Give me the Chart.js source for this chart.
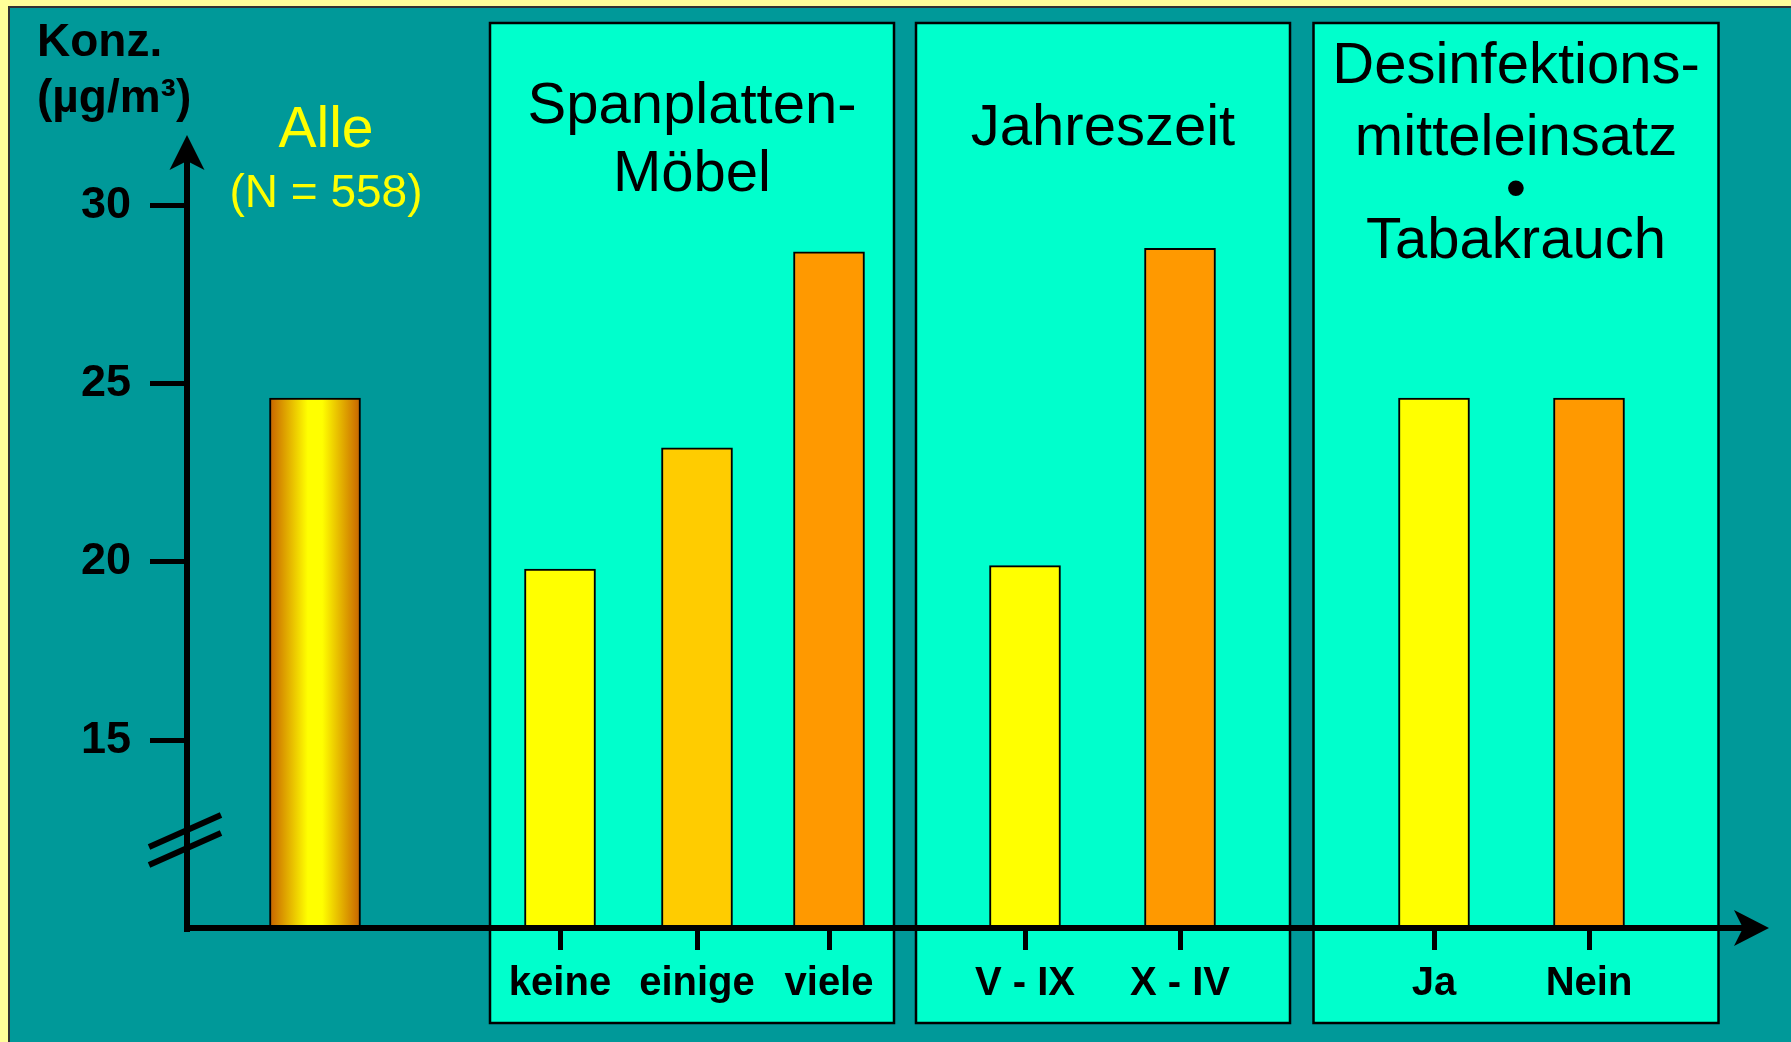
<!DOCTYPE html>
<html>
<head>
<meta charset="utf-8">
<title>Konzentration</title>
<script src="https://cdn.jsdelivr.net/npm/chart.js@4.4.0/dist/chart.umd.min.js"></script>
<style>
html, body { margin: 0; padding: 0; background: #009999; overflow: hidden; }
canvas { display: block; }
</style>
</head>
<body>
<canvas id="chart" width="1791" height="1042"></canvas>
<script>
// data
const allLabel = 'Alle';
const allCount = 558;
const allValue = 24.6;
const categories = ['keine', 'einige', 'viele', 'V - IX', 'X - IV', 'Ja', 'Nein'];
const values = [19.8, 23.2, 28.7, 19.9, 28.8, 24.6, 24.6];
const yTicks = [15, 20, 25, 30];
const groupTitles = [['Spanplatten-', 'Möbel'], ['Jahreszeit'], ['Desinfektions-', 'mitteleinsatz', '•', 'Tabakrauch']];
const yTitle = ['Konz.', '(µg/m³)'];

// layout (x in axis units)
const allX = 128;
const catX = [373, 510, 642, 838, 993, 1247, 1402];
const panels = [[303, 707], [729, 1103], [1126.5, 1531.5]];
const titleBaselines = [[123, 191], [145], [83, 155, 207, 258]];
const barColors = ['#FFFF00', '#FFCC00', '#FF9900', '#FFFF00', '#FF9900', '#FFFF00', '#FF9900'];

const FONT = '"Liberation Sans", Arial, sans-serif';

function arrowUp(ctx, x, tip) {
	ctx.beginPath();
	ctx.moveTo(x, tip);
	ctx.lineTo(x - 17.5, tip + 35);
	ctx.lineTo(x, tip + 26);
	ctx.lineTo(x + 17.5, tip + 35);
	ctx.closePath();
	ctx.fill();
}

function arrowRight(ctx, tip, y) {
	ctx.beginPath();
	ctx.moveTo(tip, y);
	ctx.lineTo(tip - 35, y - 18);
	ctx.lineTo(tip - 26, y);
	ctx.lineTo(tip - 35, y + 18);
	ctx.closePath();
	ctx.fill();
}

const decor = {
	id: 'decor',
	beforeDraw(chart) {
		const ctx = chart.ctx;
		const w = chart.width, h = chart.height;
		const xs = chart.scales.x;
		ctx.save();
		// frame
		ctx.fillStyle = '#FFFF99';
		ctx.fillRect(0, 0, w, h);
		ctx.fillStyle = '#333333';
		ctx.fillRect(8, 6, w - 8, h - 6);
		ctx.fillStyle = '#009999';
		ctx.fillRect(10, 8, w - 10, h - 8);
		// group panels
		panels.forEach(p => {
			const x1 = xs.getPixelForValue(p[0]);
			const x2 = xs.getPixelForValue(p[1]);
			ctx.fillStyle = '#00FFCC';
			ctx.fillRect(x1, 23, x2 - x1, 1000);
			ctx.lineWidth = 2.5;
			ctx.strokeStyle = '#000';
			ctx.strokeRect(x1, 23, x2 - x1, 1000);
		});
		// panel titles
		ctx.fillStyle = '#000';
		ctx.textAlign = 'center';
		ctx.textBaseline = 'alphabetic';
		ctx.font = '58px ' + FONT;
		groupTitles.forEach((lines, i) => {
			const cx = xs.getPixelForValue((panels[i][0] + panels[i][1]) / 2);
			lines.forEach((t, j) => ctx.fillText(t, cx, titleBaselines[i][j]));
		});
		// "Alle" label
		const ax = xs.getPixelForValue(allX) + 11;
		ctx.fillStyle = '#FFFF00';
		ctx.font = '57px ' + FONT;
		ctx.fillText(allLabel, ax, 147);
		ctx.font = '46px ' + FONT;
		ctx.fillText('(N = ' + allCount + ')', ax, 207);
		// y title
		ctx.fillStyle = '#000';
		ctx.textAlign = 'left';
		ctx.font = 'bold 46px ' + FONT;
		ctx.fillText(yTitle[0], 37, 56);
		ctx.fillText(yTitle[1], 37, 112);
		ctx.restore();
	},
	afterDatasetsDraw(chart) {
		const ctx = chart.ctx;
		const a = chart.chartArea;
		const ys = chart.scales.y;
		ctx.save();
		ctx.fillStyle = '#000';
		// axes
		ctx.fillRect(a.left - 3, a.top - 6, 6, a.bottom - a.top + 10);
		ctx.fillRect(a.left - 3, a.bottom - 3, a.right - a.left - 10, 6);
		arrowUp(ctx, a.left, a.top - 15);
		arrowRight(ctx, a.right + 2, a.bottom);
		// axis break
		const by = ys.getPixelForValue(12.2);
		ctx.strokeStyle = '#000';
		ctx.lineWidth = 6;
		[-9, 9].forEach(d => {
			ctx.beginPath();
			ctx.moveTo(a.left - 38, by + d + 16);
			ctx.lineTo(a.left + 34, by + d - 16);
			ctx.stroke();
		});
		ctx.restore();
	}
};

new Chart(document.getElementById('chart'), {
	type: 'bar',
	data: {
		datasets: [{
			label: allLabel,
			data: [{x: allX, y: allValue}],
			barThickness: 91,
			grouped: false,
			borderColor: '#000',
			borderWidth: 2,
			backgroundColor(c) {
				const chart = c.chart;
				if (!chart.chartArea) return '#FFCC00';
				const cx = chart.scales.x.getPixelForValue(allX);
				const g = chart.ctx.createLinearGradient(cx - 45, 0, cx + 45, 0);
				g.addColorStop(0, '#C86400');
				g.addColorStop(0.42, '#FFFF00');
				g.addColorStop(0.58, '#FFFF00');
				g.addColorStop(1, '#C86400');
				return g;
			}
		}, {
			label: 'Gruppen',
			data: catX.map((x, i) => ({x: x, y: values[i]})),
			barThickness: 71,
			grouped: false,
			borderColor: '#000',
			borderWidth: 2,
			backgroundColor: barColors
		}]
	},
	options: {
		responsive: false,
		animation: false,
		devicePixelRatio: 1,
		layout: { padding: { top: 150, right: 24, bottom: 0, left: 0 } },
		plugins: {
			legend: { display: false },
			tooltip: { enabled: false }
		},
		scales: {
			x: {
				type: 'linear',
				min: 0,
				max: 1580,
				offset: false,
				afterFit(scale) { scale.height = 114; },
				afterBuildTicks(scale) { scale.ticks = catX.map(v => ({value: v})); },
				border: { display: false },
				grid: { offset: false, drawOnChartArea: false, drawTicks: true, tickLength: 22, tickWidth: 5, tickColor: '#000' },
				ticks: {
					color: '#000',
					font: { family: FONT, size: 40, weight: 'bold' },
					padding: 10,
					maxRotation: 0,
					autoSkip: false,
					callback: (v, i) => categories[i]
				}
			},
			y: {
				min: 9.73,
				max: 31.56,
				afterFit(scale) { scale.width = 187; },
				afterBuildTicks(scale) { scale.ticks = yTicks.map(v => ({value: v})); },
				border: { display: false },
				grid: { drawOnChartArea: false, drawTicks: true, tickLength: 37, tickWidth: 5, tickColor: '#000' },
				ticks: {
					color: '#000',
					font: { family: FONT, size: 45, weight: 'bold' },
					padding: 19
				}
			}
		}
	},
	plugins: [decor]
});
</script>
</body>
</html>
